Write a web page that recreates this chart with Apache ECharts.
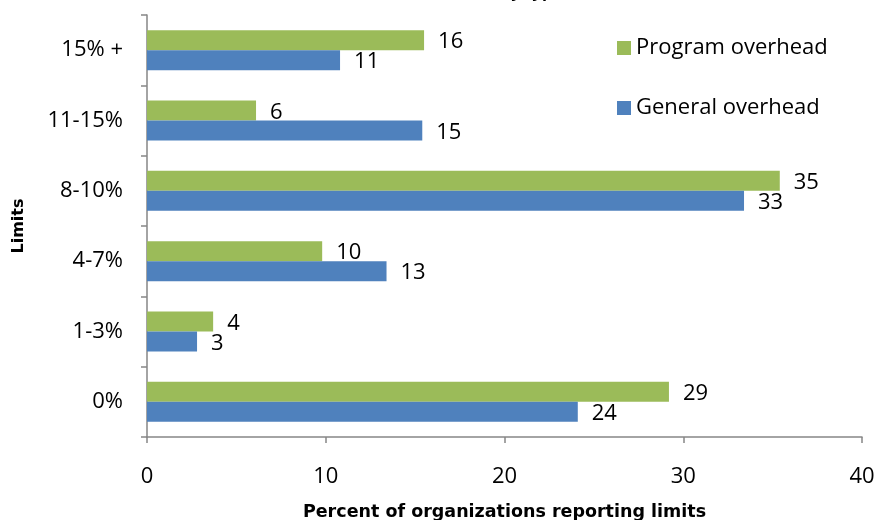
<!DOCTYPE html>
<html lang="en">
<head>
  <meta charset="UTF-8">
  <script src="https://cdn.jsdelivr.net/npm/echarts@6/dist/echarts.min.js"></script>
  <style>
    body { margin: 0; background: #ffffff; }
    #main { width: 878px; height: 520px; }
  </style>
</head>
<body>
  <div id="main"></div>
  <script>
    // Categories, bottom to top
    var limits = ['0%', '1-3%', '4-7%', '8-10%', '11-15%', '15% +'];
    var programOverhead = [29.2, 3.7, 9.8, 35.4, 6.1, 15.5];
    var generalOverhead = [24.1, 2.8, 13.4, 33.4, 15.4, 10.8];
    var xTicks = [0, 10, 20, 30, 40];

    var chart = echarts.init(document.getElementById('main'));
    var font = '"Open Sans", sans-serif';
    var boldFont = '"DejaVu Sans", sans-serif';

    var labelOpt = {
      show: true,
      position: 'right',
      distance: 14,
      offset: [0, 2],
      color: '#000',
      fontSize: 22,
      fontFamily: font,
      formatter: function (p) { return Math.round(p.value); }
    };

    chart.setOption({
      animation: false,
      // chart title is cut off by the top edge, only descenders show
      graphic: [{
        type: 'text',
        left: 442,
        top: -17,
        style: { text: 'Limits by type', font: 'bold 18px "Liberation Sans", Arial', fill: '#000' }
      }],
      legend: {
        orient: 'vertical',
        left: 612,
        top: 32,
        itemGap: 38,
        itemWidth: 14,
        itemHeight: 14,
        icon: 'rect',
        data: ['Program overhead', 'General overhead'],
        textStyle: { fontSize: 22, fontFamily: font, color: '#000' }
      },
      grid: { left: 147, right: 16, top: 15, bottom: 83, outerBoundsMode: 'none' },
      xAxis: {
        type: 'value',
        min: 0,
        max: 40,
        interval: 10,
        name: 'Percent of organizations reporting limits',
        nameLocation: 'middle',
        nameGap: 66,
        nameTextStyle: { fontSize: 17.5, fontWeight: 'bold', fontFamily: boldFont, color: '#000' },
        axisLine: { show: true, lineStyle: { color: '#868686', width: 1.5 } },
        axisTick: { show: true, length: 6, lineStyle: { color: '#868686', width: 1.5 } },
        splitLine: { show: false },
        axisLabel: {
          fontSize: 22, fontFamily: font, color: '#000', margin: 29,
          formatter: function (v) { return xTicks.indexOf(v) >= 0 ? v : ''; }
        }
      },
      yAxis: {
        type: 'category',
        data: limits,
        name: 'Limits',
        nameLocation: 'middle',
        nameGap: 120,
        nameTextStyle: { fontSize: 16, fontWeight: 'bold', fontFamily: boldFont, color: '#000' },
        axisLine: { show: true, lineStyle: { color: '#868686', width: 1.5 } },
        axisTick: { show: true, length: 6, lineStyle: { color: '#868686', width: 1.5 } },
        axisLabel: { fontSize: 22, fontFamily: font, color: '#000', margin: 24 }
      },
      series: [
        {
          name: 'Program overhead',
          type: 'bar',
          data: programOverhead,
          barWidth: 20,
          barGap: '0%',
          itemStyle: { color: '#9BBB59' },
          label: labelOpt
        },
        {
          name: 'General overhead',
          type: 'bar',
          data: generalOverhead,
          barWidth: 20,
          barGap: '0%',
          itemStyle: { color: '#4F81BD' },
          label: labelOpt
        }
      ]
    });
  </script>
</body>
</html>
